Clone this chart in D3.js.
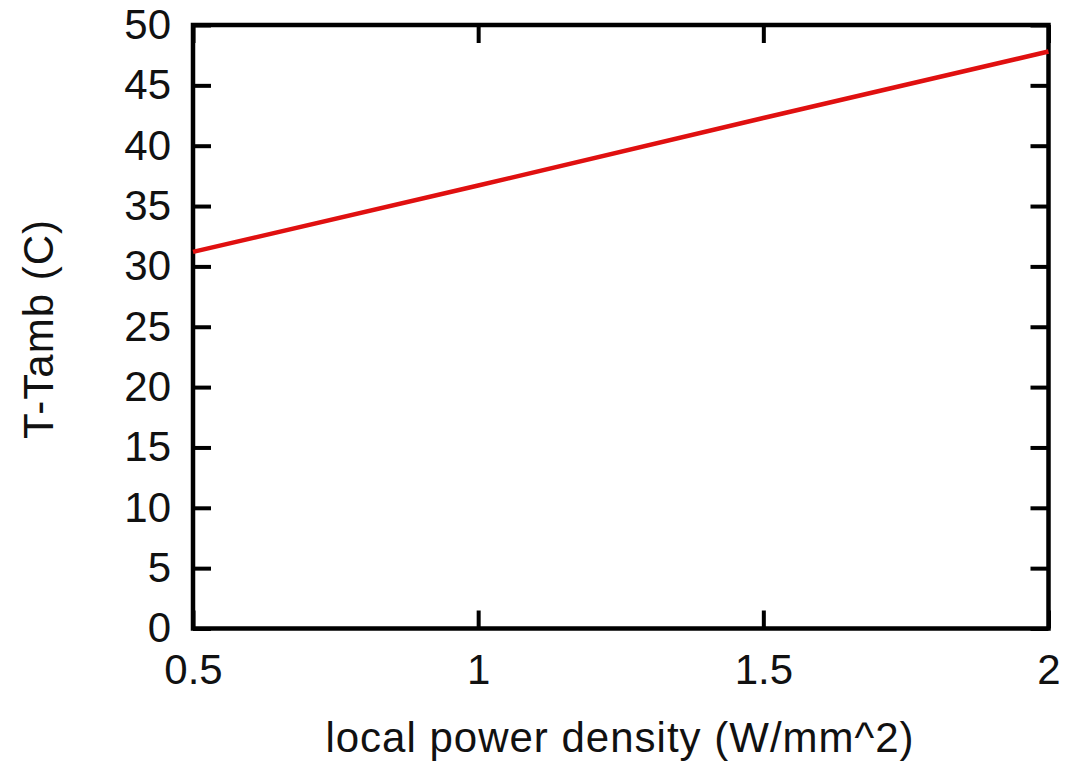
<!DOCTYPE html>
<html>
<head>
<meta charset="utf-8">
<script src="https://cdn.jsdelivr.net/npm/d3@7"></script>
<style>
  body { margin: 0; background: #fff; }
  svg text { font-family: "Liberation Sans", Arial, sans-serif; fill: #111; }
</style>
</head>
<body>
<div id="chart"></div>
<script>
// data
const powerDensity = [0.5, 1, 1.5, 2]
const tempRise = [31.2, 36.7, 42.3, 47.8]
const xTicks = [0.5, 1, 1.5, 2]
const yTicks = [0, 5, 10, 15, 20, 25, 30, 35, 40, 45, 50]

const width = 1077
const height = 763
const margin = { left: 193, right: 28.5, top: 25, bottom: 134.5 }
const fontSize = 42

const svg = d3.select("#chart")
  .append("svg")
  .attr("width", width)
  .attr("height", height)

const x = d3.scaleLinear()
  .domain([0.5, 2])
  .range([margin.left, width - margin.right])

const y = d3.scaleLinear()
  .domain([0, 50])
  .range([height - margin.bottom, margin.top])

const tickLen = 18

// ticks on all four sides, pointing inwards
const axisStyle = g => {
  g.attr("font-size", null).attr("font-family", null)
  g.select(".domain").remove()
  g.selectAll(".tick line").attr("stroke", "#000").attr("stroke-width", 4)
  g.selectAll(".tick text").style("font-size", fontSize + "px").attr("fill", "#111")
}

svg.append("g")
  .attr("transform", `translate(0,${y(0)})`)
  .call(d3.axisBottom(x).tickValues(xTicks).tickSize(-tickLen).tickPadding(26).tickFormat(d3.format("")))
  .call(axisStyle)

svg.append("g")
  .attr("transform", `translate(0,${y(50)})`)
  .call(d3.axisTop(x).tickValues(xTicks).tickSize(-tickLen).tickFormat(""))
  .call(axisStyle)

svg.append("g")
  .attr("transform", `translate(${x(0.5)},0)`)
  .call(d3.axisLeft(y).tickValues(yTicks).tickSize(-tickLen).tickPadding(22))
  .call(axisStyle)

svg.append("g")
  .attr("transform", `translate(${x(2)},0)`)
  .call(d3.axisRight(y).tickValues(yTicks).tickSize(-tickLen).tickFormat(""))
  .call(axisStyle)

// frame
svg.append("rect")
  .attr("x", x(0.5))
  .attr("y", y(50))
  .attr("width", x(2) - x(0.5))
  .attr("height", y(0) - y(50))
  .attr("fill", "none")
  .attr("stroke", "#000")
  .attr("stroke-width", 4.5)

// data line
const line = d3.line()
  .x((d, i) => x(powerDensity[i]))
  .y(d => y(d))

svg.append("path")
  .datum(tempRise)
  .attr("d", line)
  .attr("fill", "none")
  .attr("stroke", "#e01010")
  .attr("stroke-width", 4.5)

// axis labels
svg.append("text")
  .attr("x", 620)
  .attr("y", 752)
  .attr("text-anchor", "middle")
  .style("font-size", fontSize + "px")
  .attr("letter-spacing", 1)
  .text("local power density (W/mm^2)")

svg.append("text")
  .attr("transform", "translate(53,329) rotate(-90)")
  .attr("text-anchor", "middle")
  .style("font-size", fontSize + "px")
  .attr("letter-spacing", 1)
  .text("T-Tamb (C)")
</script>
</body>
</html>
